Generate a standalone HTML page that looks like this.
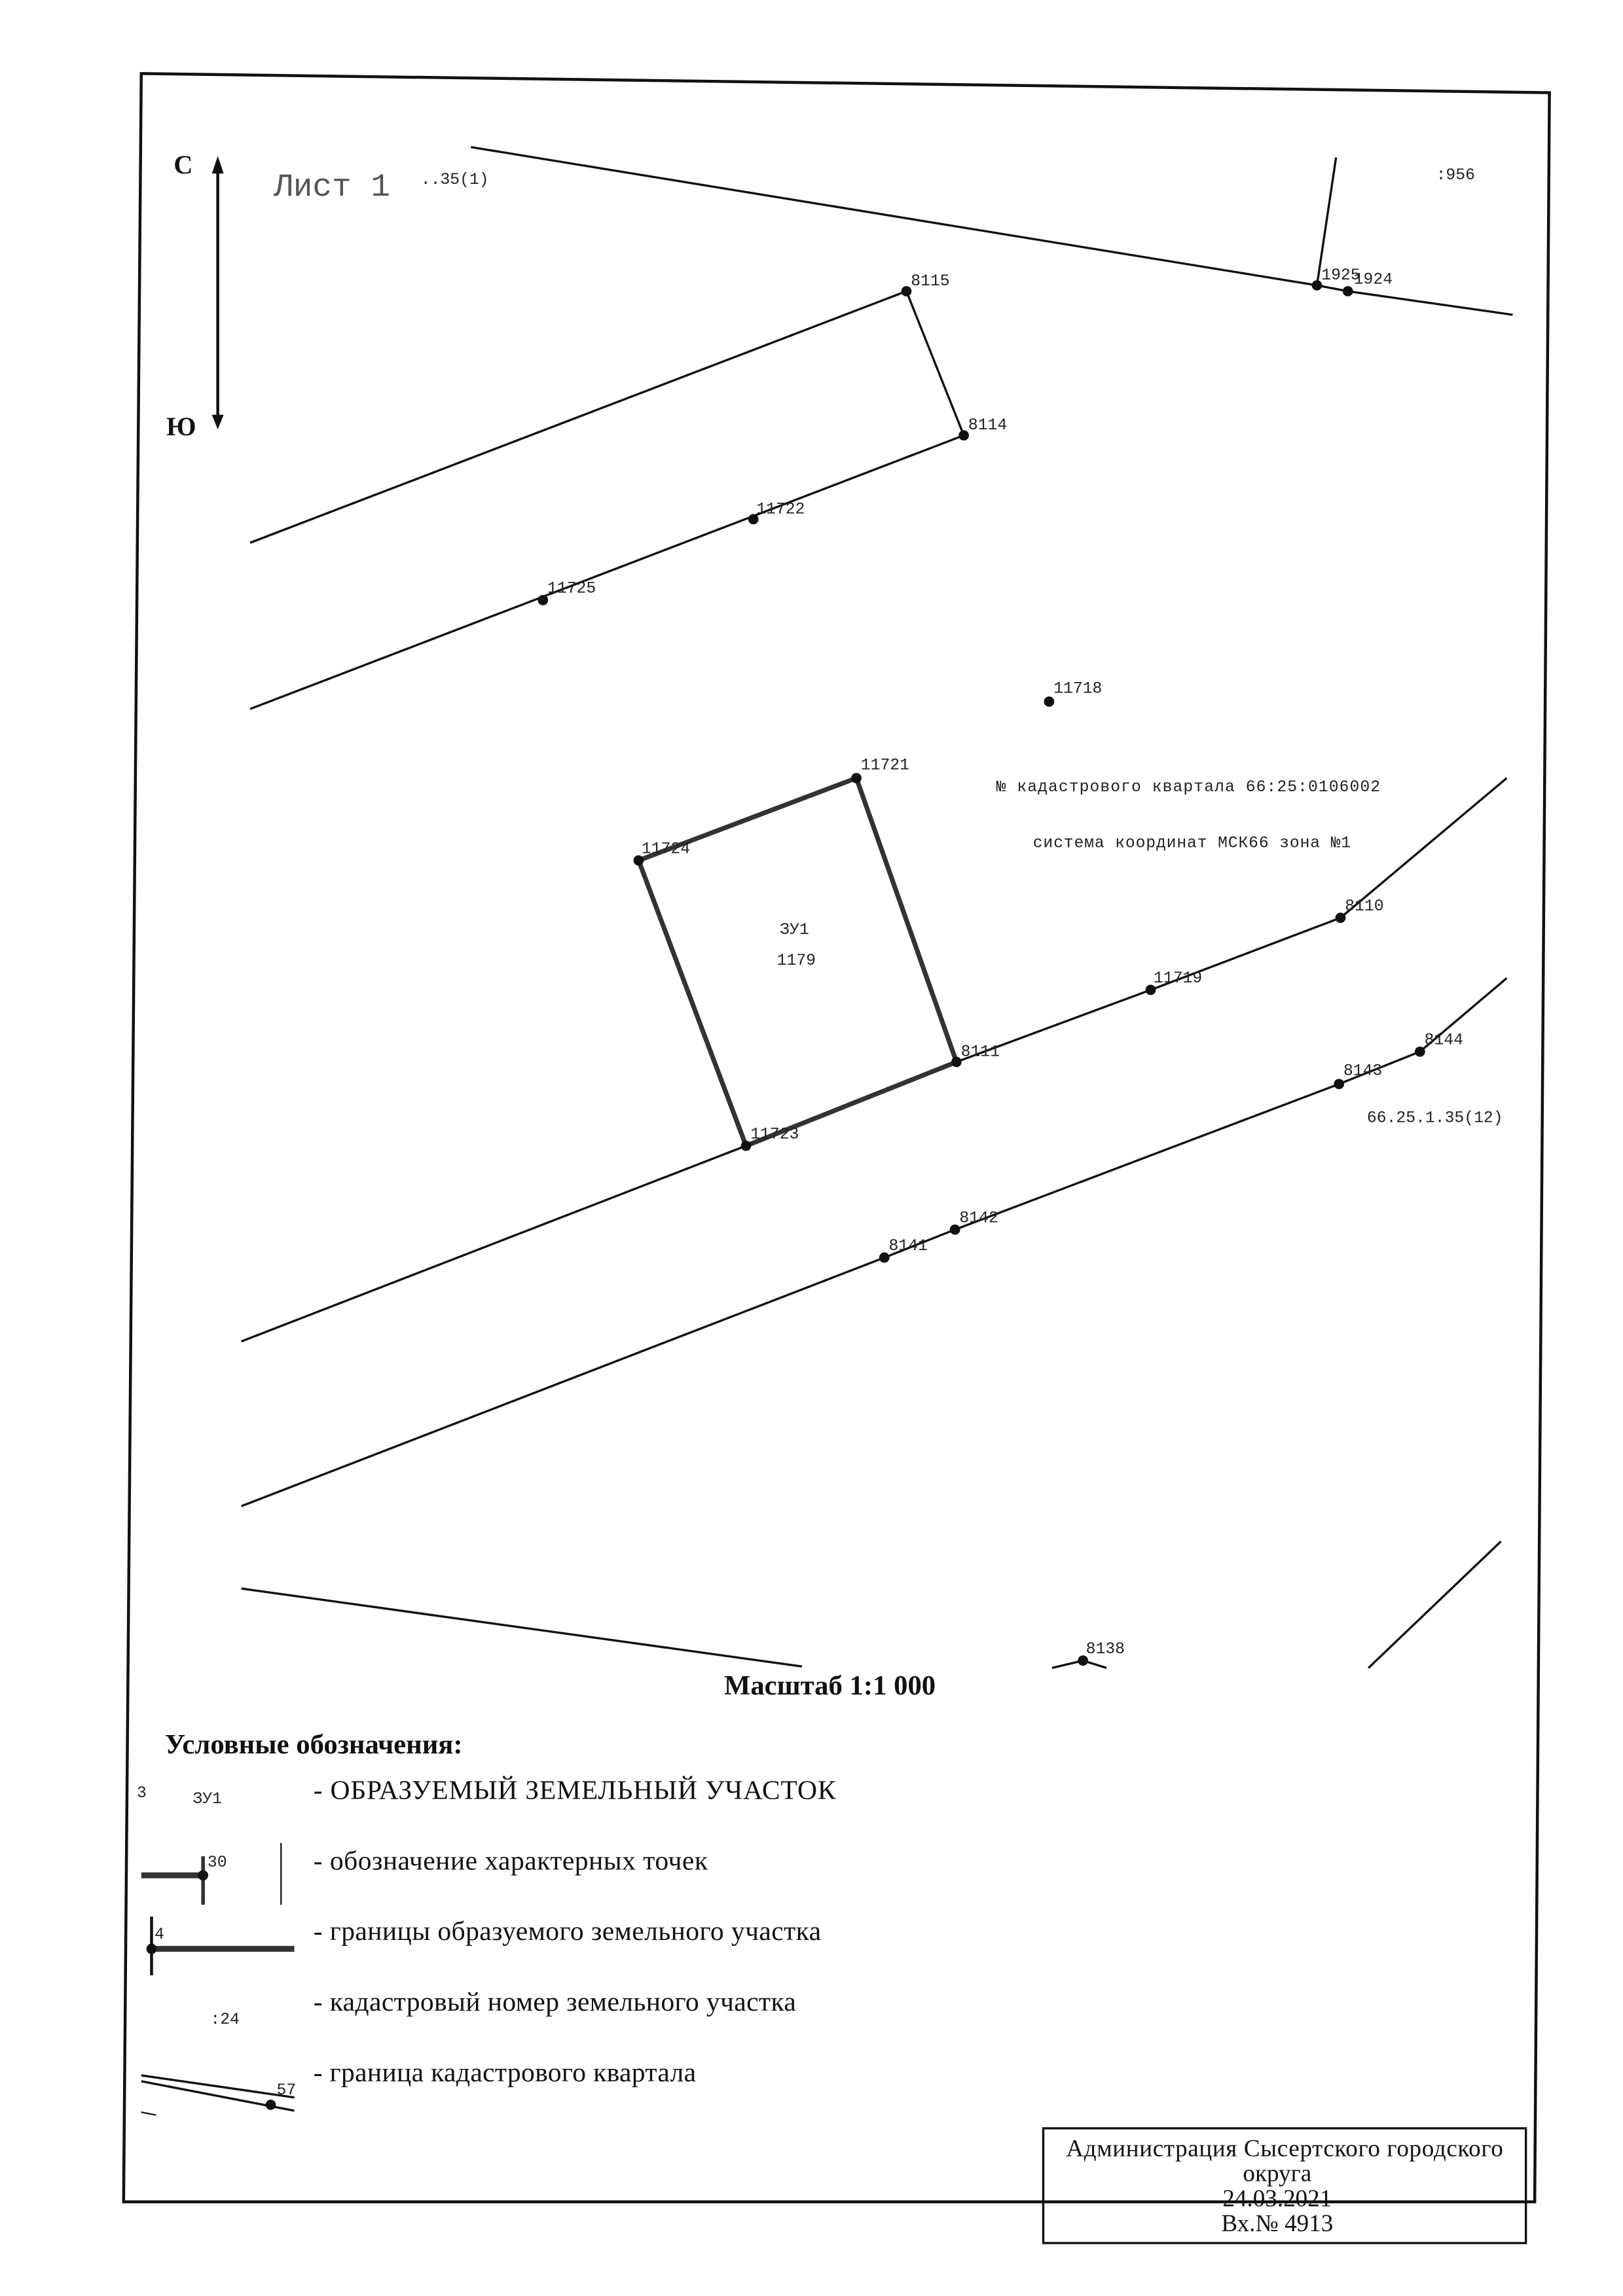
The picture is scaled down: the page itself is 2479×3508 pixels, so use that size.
<!DOCTYPE html>
<html><head><meta charset="utf-8"><style>
html,body{margin:0;padding:0;background:#fff;}
svg{display:block;}
.m{font-family:"Liberation Mono","DejaVu Sans Mono",monospace;font-size:11px;fill:#222;}
.s{font-family:"Liberation Serif","DejaVu Serif",serif;fill:#111;}
</style></head><body>
<svg width="2479" height="3508" viewBox="0 0 1103 1561" preserveAspectRatio="none" xmlns="http://www.w3.org/2000/svg">
<polygon points="96,50 1053,63 1043,1497 84,1497" fill="none" stroke="#111" stroke-width="2"/>
<line x1="148" y1="112" x2="148" y2="286" stroke="#111" stroke-width="2"/>
<polygon points="148,106 144,118 152,118" fill="#111"/>
<polygon points="148,292 144,282 152,282" fill="#111"/>
<text x="118" y="118" class="s" font-size="18" font-weight="bold">С</text>
<text x="113" y="296" class="s" font-size="18" font-weight="bold">Ю</text>
<text x="186" y="133" font-family="Liberation Mono,monospace" font-size="22" fill="#555">Лист 1</text>
<text x="286" y="125" class="m" font-size="9">..35(1)</text>
<text x="976" y="122" class="m">:956</text>
<g stroke="#111" stroke-width="1.5" fill="none">
<polyline points="320,100 895,194 916,198 1028,214"/>
<line x1="908" y1="107" x2="895" y2="194"/>
<polyline points="170,369 616,198 655,296 170,482"/>
<polyline points="164,912 507,779 650,722 782,673 911,624 1024,529"/>
<polyline points="164,1024 601,855 649,836 910,737 965,715 1024,665"/>
<polyline points="164,1080 545,1133"/>
<polyline points="715,1134 736,1129 752,1134"/>
<line x1="930" y1="1134" x2="1020" y2="1048"/>
</g>
<polygon points="582,529 434,585 507,779 650,722" fill="none" stroke="#333" stroke-width="3.2"/>
<g fill="#111">
<circle cx="895" cy="194" r="3.5"/><circle cx="916" cy="198" r="3.5"/>
<circle cx="616" cy="198" r="3.5"/><circle cx="655" cy="296" r="3.5"/>
<circle cx="512" cy="353" r="3.5"/><circle cx="369" cy="408" r="3.5"/>
<circle cx="713" cy="477" r="3.5"/>
<circle cx="582" cy="529" r="3.5"/><circle cx="434" cy="585" r="3.5"/>
<circle cx="650" cy="722" r="3.5"/><circle cx="507" cy="779" r="3.5"/>
<circle cx="782" cy="673" r="3.5"/><circle cx="911" cy="624" r="3.5"/>
<circle cx="601" cy="855" r="3.5"/><circle cx="649" cy="836" r="3.5"/>
<circle cx="910" cy="737" r="3.5"/><circle cx="965" cy="715" r="3.5"/>
<circle cx="736" cy="1129" r="3.5"/>
</g>
<g class="m">
<text x="898" y="190">1925</text><text x="920" y="193">1924</text>
<text x="619" y="194">8115</text><text x="658" y="292">8114</text>
<text x="514" y="349">11722</text><text x="372" y="403">11725</text>
<text x="716" y="471">11718</text>
<text x="585" y="523">11721</text><text x="436" y="580">11724</text>
<text x="653" y="718">8111</text><text x="510" y="774">11723</text>
<text x="784" y="668">11719</text><text x="914" y="619">8110</text>
<text x="604" y="850">8141</text><text x="652" y="831">8142</text>
<text x="913" y="731">8143</text><text x="968" y="710">8144</text>
<text x="738" y="1124">8138</text>
<text x="929" y="763">66.25.1.35(12)</text>
<text x="677" y="538" textLength="261">№ кадастрового квартала 66:25:0106002</text>
<text x="702" y="576" textLength="216">система координат МСК66 зона №1</text>
<text x="530" y="635">ЗУ1</text><text x="528" y="656">1179</text>
</g>
<text x="564" y="1152" class="s" font-size="19" font-weight="bold" text-anchor="middle">Масштаб 1:1 000</text>
<text x="112" y="1192" class="s" font-size="19" font-weight="bold">Условные обозначения:</text>
<g class="s" font-size="18.5">
<text x="213" y="1223" textLength="355">- ОБРАЗУЕМЫЙ ЗЕМЕЛЬНЫЙ УЧАСТОК</text>
<text x="213" y="1271" textLength="268">- обозначение характерных точек</text>
<text x="213" y="1319" textLength="345">- границы образуемого земельного участка</text>
<text x="213" y="1367" textLength="328">- кадастровый номер земельного участка</text>
<text x="213" y="1415" textLength="260">- граница кадастрового квартала</text>
</g>
<text x="93" y="1222" class="m" font-size="9">3</text>
<text x="131" y="1226" class="m">ЗУ1</text>
<line x1="96" y1="1275" x2="138" y2="1275" stroke="#333" stroke-width="4"/>
<line x1="138" y1="1262" x2="138" y2="1295" stroke="#333" stroke-width="2.5"/>
<circle cx="138" cy="1275" r="3.5" fill="#111"/>
<text x="141" y="1269" class="m">30</text>
<line x1="191" y1="1253" x2="191" y2="1295" stroke="#111" stroke-width="1"/>
<line x1="103" y1="1303" x2="103" y2="1343" stroke="#111" stroke-width="2"/>
<line x1="103" y1="1325" x2="200" y2="1325" stroke="#333" stroke-width="4"/>
<circle cx="103" cy="1325" r="3.5" fill="#111"/>
<text x="105" y="1318" class="m">4</text>
<text x="143" y="1376" class="m">:24</text>
<line x1="96" y1="1411" x2="200" y2="1426" stroke="#111" stroke-width="1.5"/>
<line x1="96" y1="1415" x2="200" y2="1435" stroke="#111" stroke-width="1.5"/>
<circle cx="184" cy="1431" r="3.5" fill="#111"/>
<text x="188" y="1424" class="m">57</text>
<line x1="96" y1="1436" x2="106" y2="1438" stroke="#111" stroke-width="1"/>
<rect x="709" y="1447" width="328" height="78" fill="none" stroke="#111" stroke-width="1.5"/>
<g class="s" font-size="16.5" text-anchor="middle">
<text x="873" y="1466" textLength="297">Администрация Сысертского городского</text>
<text x="868" y="1483">округа</text>
<text x="868" y="1500">24.03.2021</text>
<text x="868" y="1517">Вх.№ 4913</text>
</g>
</svg>
</body></html>
